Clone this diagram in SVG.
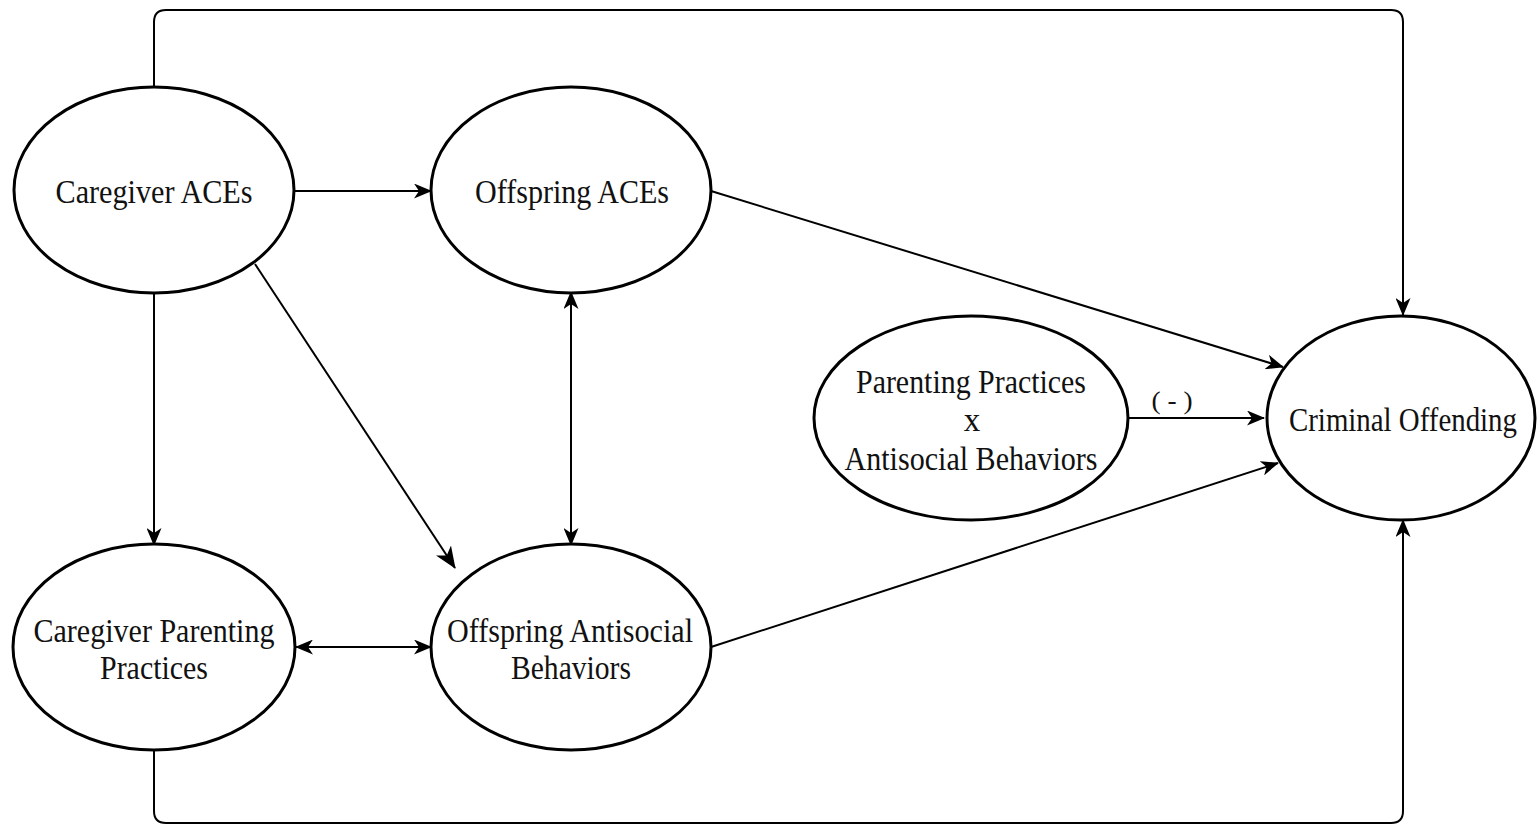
<svg xmlns="http://www.w3.org/2000/svg" width="1537" height="825" viewBox="0 0 1537 825">
<style>
.node ellipse{fill:#fff;stroke:#000;stroke-width:3}
.node text,.lbl{font-family:"Liberation Serif","Times New Roman",serif;font-size:33px;fill:#111;text-anchor:middle}
.lbl{font-size:26px}
.conn path,.conn line{fill:none;stroke:#000;stroke-width:2}
</style>
<defs>
<marker id="arr" markerUnits="userSpaceOnUse" markerWidth="18" markerHeight="15" refX="17" refY="7.5" orient="auto-start-reverse" viewBox="0 0 18 15">
<path d="M0,0 L18,7.5 L0,15 L5,7.5 Z" fill="#000"/>
</marker>
<marker id="arrL" markerUnits="userSpaceOnUse" markerWidth="22" markerHeight="18" refX="21" refY="9" orient="auto" viewBox="0 0 22 18">
<path d="M0,0 L22,9 L0,18 L6,9 Z" fill="#000"/>
</marker>
</defs>
<rect width="1537" height="825" fill="#fff"/>
<g class="conn">
<path d="M154,87 V22 Q154,10 166,10 H1391 Q1403,10 1403,22 V315" marker-end="url(#arr)"/>
<path d="M154,750 V811 Q154,823 166,823 H1391 Q1403,823 1403,811 V520" marker-end="url(#arr)"/>
<line x1="294" y1="191" x2="431" y2="191" marker-end="url(#arr)"/>
<line x1="154" y1="292" x2="154" y2="545" marker-end="url(#arr)"/>
<line x1="255" y1="264" x2="455" y2="568" marker-end="url(#arrL)"/>
<line x1="571" y1="292" x2="571" y2="545" marker-start="url(#arr)" marker-end="url(#arr)"/>
<line x1="296" y1="647" x2="431" y2="647" marker-start="url(#arr)" marker-end="url(#arr)"/>
<line x1="711" y1="191" x2="1283" y2="367" marker-end="url(#arr)"/>
<line x1="1128" y1="418" x2="1264" y2="418" marker-end="url(#arr)"/>
<line x1="711" y1="647" x2="1278" y2="463" marker-end="url(#arr)"/>
<text class="lbl" x="1172" y="409" textLength="41" lengthAdjust="spacingAndGlyphs">( - )</text>
</g>
<g id="caregiver-aces" class="node">
<ellipse cx="154" cy="190" rx="140" ry="103"/>
<text x="154" y="203" textLength="197" lengthAdjust="spacingAndGlyphs">Caregiver ACEs</text>
</g>
<g id="offspring-aces" class="node">
<ellipse cx="571" cy="190" rx="140" ry="103"/>
<text x="572" y="203" textLength="194" lengthAdjust="spacingAndGlyphs">Offspring ACEs</text>
</g>
<g id="caregiver-parenting" class="node">
<ellipse cx="154" cy="647" rx="141" ry="103"/>
<text x="154" y="642" textLength="241" lengthAdjust="spacingAndGlyphs">Caregiver Parenting</text>
<text x="154" y="679" textLength="108" lengthAdjust="spacingAndGlyphs">Practices</text>
</g>
<g id="offspring-antisocial" class="node">
<ellipse cx="571" cy="647" rx="140" ry="103"/>
<text x="570" y="642" textLength="246" lengthAdjust="spacingAndGlyphs">Offspring Antisocial</text>
<text x="571" y="679" textLength="120" lengthAdjust="spacingAndGlyphs">Behaviors</text>
</g>
<g id="interaction" class="node">
<ellipse cx="971" cy="418" rx="157" ry="102"/>
<text x="971" y="393" textLength="230" lengthAdjust="spacingAndGlyphs">Parenting Practices</text>
<text x="972" y="431">x</text>
<text x="971" y="470" textLength="253" lengthAdjust="spacingAndGlyphs">Antisocial Behaviors</text>
</g>
<g id="criminal-offending" class="node">
<ellipse cx="1401" cy="418" rx="134" ry="102"/>
<text x="1403" y="431" textLength="228" lengthAdjust="spacingAndGlyphs">Criminal Offending</text>
</g>
</svg>
